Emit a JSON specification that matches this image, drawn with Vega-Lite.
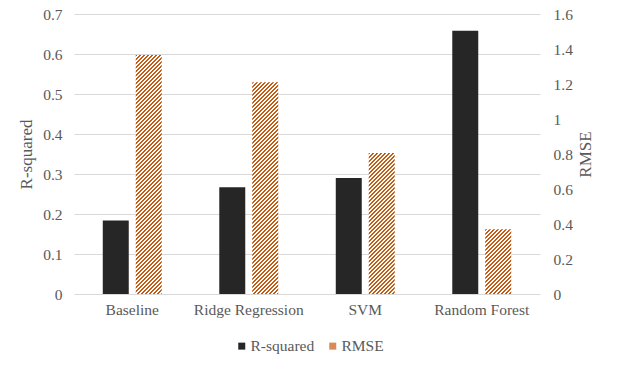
{
  "$schema": "https://vega.github.io/schema/vega-lite/v6.json",
  "width": 466,
  "height": 280,
  "autosize": {"type": "none"},
  "padding": {"left": 74, "top": 14, "right": 79, "bottom": 74},
  "background": "white",
  "params": [
    {"name": "hs", "value": [
      {"offset":0,"color":"#c55a11"},
      {"offset":0.005,"color":"#c55a11"},{"offset":0.005,"color":"#fff"},{"offset":0.01,"color":"#fff"},{"offset":0.01,"color":"#c55a11"},
      {"offset":0.015,"color":"#c55a11"},{"offset":0.015,"color":"#fff"},{"offset":0.02,"color":"#fff"},{"offset":0.02,"color":"#c55a11"},
      {"offset":0.025,"color":"#c55a11"},{"offset":0.025,"color":"#fff"},{"offset":0.03,"color":"#fff"},{"offset":0.03,"color":"#c55a11"},
      {"offset":0.035,"color":"#c55a11"},{"offset":0.035,"color":"#fff"},{"offset":0.04,"color":"#fff"},{"offset":0.04,"color":"#c55a11"},
      {"offset":0.045,"color":"#c55a11"},{"offset":0.045,"color":"#fff"},{"offset":0.05,"color":"#fff"},{"offset":0.05,"color":"#c55a11"},
      {"offset":0.055,"color":"#c55a11"},{"offset":0.055,"color":"#fff"},{"offset":0.06,"color":"#fff"},{"offset":0.06,"color":"#c55a11"},
      {"offset":0.065,"color":"#c55a11"},{"offset":0.065,"color":"#fff"},{"offset":0.07,"color":"#fff"},{"offset":0.07,"color":"#c55a11"},
      {"offset":0.075,"color":"#c55a11"},{"offset":0.075,"color":"#fff"},{"offset":0.08,"color":"#fff"},{"offset":0.08,"color":"#c55a11"},
      {"offset":0.085,"color":"#c55a11"},{"offset":0.085,"color":"#fff"},{"offset":0.09,"color":"#fff"},{"offset":0.09,"color":"#c55a11"},
      {"offset":0.095,"color":"#c55a11"},{"offset":0.095,"color":"#fff"},{"offset":0.1,"color":"#fff"},{"offset":0.1,"color":"#c55a11"},
      {"offset":0.105,"color":"#c55a11"},{"offset":0.105,"color":"#fff"},{"offset":0.11,"color":"#fff"},{"offset":0.11,"color":"#c55a11"},
      {"offset":0.115,"color":"#c55a11"},{"offset":0.115,"color":"#fff"},{"offset":0.12,"color":"#fff"},{"offset":0.12,"color":"#c55a11"},
      {"offset":0.125,"color":"#c55a11"},{"offset":0.125,"color":"#fff"},{"offset":0.13,"color":"#fff"},{"offset":0.13,"color":"#c55a11"},
      {"offset":0.135,"color":"#c55a11"},{"offset":0.135,"color":"#fff"},{"offset":0.14,"color":"#fff"},{"offset":0.14,"color":"#c55a11"},
      {"offset":0.145,"color":"#c55a11"},{"offset":0.145,"color":"#fff"},{"offset":0.15,"color":"#fff"},{"offset":0.15,"color":"#c55a11"},
      {"offset":0.155,"color":"#c55a11"},{"offset":0.155,"color":"#fff"},{"offset":0.16,"color":"#fff"},{"offset":0.16,"color":"#c55a11"},
      {"offset":0.165,"color":"#c55a11"},{"offset":0.165,"color":"#fff"},{"offset":0.17,"color":"#fff"},{"offset":0.17,"color":"#c55a11"},
      {"offset":0.175,"color":"#c55a11"},{"offset":0.175,"color":"#fff"},{"offset":0.18,"color":"#fff"},{"offset":0.18,"color":"#c55a11"},
      {"offset":0.185,"color":"#c55a11"},{"offset":0.185,"color":"#fff"},{"offset":0.19,"color":"#fff"},{"offset":0.19,"color":"#c55a11"},
      {"offset":0.195,"color":"#c55a11"},{"offset":0.195,"color":"#fff"},{"offset":0.2,"color":"#fff"},{"offset":0.2,"color":"#c55a11"},
      {"offset":0.205,"color":"#c55a11"},{"offset":0.205,"color":"#fff"},{"offset":0.21,"color":"#fff"},{"offset":0.21,"color":"#c55a11"},
      {"offset":0.215,"color":"#c55a11"},{"offset":0.215,"color":"#fff"},{"offset":0.22,"color":"#fff"},{"offset":0.22,"color":"#c55a11"},
      {"offset":0.225,"color":"#c55a11"},{"offset":0.225,"color":"#fff"},{"offset":0.23,"color":"#fff"},{"offset":0.23,"color":"#c55a11"},
      {"offset":0.235,"color":"#c55a11"},{"offset":0.235,"color":"#fff"},{"offset":0.24,"color":"#fff"},{"offset":0.24,"color":"#c55a11"},
      {"offset":0.245,"color":"#c55a11"},{"offset":0.245,"color":"#fff"},{"offset":0.25,"color":"#fff"},{"offset":0.25,"color":"#c55a11"},
      {"offset":0.255,"color":"#c55a11"},{"offset":0.255,"color":"#fff"},{"offset":0.26,"color":"#fff"},{"offset":0.26,"color":"#c55a11"},
      {"offset":0.265,"color":"#c55a11"},{"offset":0.265,"color":"#fff"},{"offset":0.27,"color":"#fff"},{"offset":0.27,"color":"#c55a11"},
      {"offset":0.275,"color":"#c55a11"},{"offset":0.275,"color":"#fff"},{"offset":0.28,"color":"#fff"},{"offset":0.28,"color":"#c55a11"},
      {"offset":0.285,"color":"#c55a11"},{"offset":0.285,"color":"#fff"},{"offset":0.29,"color":"#fff"},{"offset":0.29,"color":"#c55a11"},
      {"offset":0.295,"color":"#c55a11"},{"offset":0.295,"color":"#fff"},{"offset":0.3,"color":"#fff"},{"offset":0.3,"color":"#c55a11"},
      {"offset":0.305,"color":"#c55a11"},{"offset":0.305,"color":"#fff"},{"offset":0.31,"color":"#fff"},{"offset":0.31,"color":"#c55a11"},
      {"offset":0.315,"color":"#c55a11"},{"offset":0.315,"color":"#fff"},{"offset":0.32,"color":"#fff"},{"offset":0.32,"color":"#c55a11"},
      {"offset":0.325,"color":"#c55a11"},{"offset":0.325,"color":"#fff"},{"offset":0.33,"color":"#fff"},{"offset":0.33,"color":"#c55a11"},
      {"offset":0.335,"color":"#c55a11"},{"offset":0.335,"color":"#fff"},{"offset":0.34,"color":"#fff"},{"offset":0.34,"color":"#c55a11"},
      {"offset":0.345,"color":"#c55a11"},{"offset":0.345,"color":"#fff"},{"offset":0.35,"color":"#fff"},{"offset":0.35,"color":"#c55a11"},
      {"offset":0.355,"color":"#c55a11"},{"offset":0.355,"color":"#fff"},{"offset":0.36,"color":"#fff"},{"offset":0.36,"color":"#c55a11"},
      {"offset":0.365,"color":"#c55a11"},{"offset":0.365,"color":"#fff"},{"offset":0.37,"color":"#fff"},{"offset":0.37,"color":"#c55a11"},
      {"offset":0.375,"color":"#c55a11"},{"offset":0.375,"color":"#fff"},{"offset":0.38,"color":"#fff"},{"offset":0.38,"color":"#c55a11"},
      {"offset":0.385,"color":"#c55a11"},{"offset":0.385,"color":"#fff"},{"offset":0.39,"color":"#fff"},{"offset":0.39,"color":"#c55a11"},
      {"offset":0.395,"color":"#c55a11"},{"offset":0.395,"color":"#fff"},{"offset":0.4,"color":"#fff"},{"offset":0.4,"color":"#c55a11"},
      {"offset":0.405,"color":"#c55a11"},{"offset":0.405,"color":"#fff"},{"offset":0.41,"color":"#fff"},{"offset":0.41,"color":"#c55a11"},
      {"offset":0.415,"color":"#c55a11"},{"offset":0.415,"color":"#fff"},{"offset":0.42,"color":"#fff"},{"offset":0.42,"color":"#c55a11"},
      {"offset":0.425,"color":"#c55a11"},{"offset":0.425,"color":"#fff"},{"offset":0.43,"color":"#fff"},{"offset":0.43,"color":"#c55a11"},
      {"offset":0.435,"color":"#c55a11"},{"offset":0.435,"color":"#fff"},{"offset":0.44,"color":"#fff"},{"offset":0.44,"color":"#c55a11"},
      {"offset":0.445,"color":"#c55a11"},{"offset":0.445,"color":"#fff"},{"offset":0.45,"color":"#fff"},{"offset":0.45,"color":"#c55a11"},
      {"offset":0.455,"color":"#c55a11"},{"offset":0.455,"color":"#fff"},{"offset":0.46,"color":"#fff"},{"offset":0.46,"color":"#c55a11"},
      {"offset":0.465,"color":"#c55a11"},{"offset":0.465,"color":"#fff"},{"offset":0.47,"color":"#fff"},{"offset":0.47,"color":"#c55a11"},
      {"offset":0.475,"color":"#c55a11"},{"offset":0.475,"color":"#fff"},{"offset":0.48,"color":"#fff"},{"offset":0.48,"color":"#c55a11"},
      {"offset":0.485,"color":"#c55a11"},{"offset":0.485,"color":"#fff"},{"offset":0.49,"color":"#fff"},{"offset":0.49,"color":"#c55a11"},
      {"offset":0.495,"color":"#c55a11"},{"offset":0.495,"color":"#fff"},{"offset":0.5,"color":"#fff"},{"offset":0.5,"color":"#c55a11"},
      {"offset":0.505,"color":"#c55a11"},{"offset":0.505,"color":"#fff"},{"offset":0.51,"color":"#fff"},{"offset":0.51,"color":"#c55a11"},
      {"offset":0.515,"color":"#c55a11"},{"offset":0.515,"color":"#fff"},{"offset":0.52,"color":"#fff"},{"offset":0.52,"color":"#c55a11"},
      {"offset":0.525,"color":"#c55a11"},{"offset":0.525,"color":"#fff"},{"offset":0.53,"color":"#fff"},{"offset":0.53,"color":"#c55a11"},
      {"offset":0.535,"color":"#c55a11"},{"offset":0.535,"color":"#fff"},{"offset":0.54,"color":"#fff"},{"offset":0.54,"color":"#c55a11"},
      {"offset":0.545,"color":"#c55a11"},{"offset":0.545,"color":"#fff"},{"offset":0.55,"color":"#fff"},{"offset":0.55,"color":"#c55a11"},
      {"offset":0.555,"color":"#c55a11"},{"offset":0.555,"color":"#fff"},{"offset":0.56,"color":"#fff"},{"offset":0.56,"color":"#c55a11"},
      {"offset":0.565,"color":"#c55a11"},{"offset":0.565,"color":"#fff"},{"offset":0.57,"color":"#fff"},{"offset":0.57,"color":"#c55a11"},
      {"offset":0.575,"color":"#c55a11"},{"offset":0.575,"color":"#fff"},{"offset":0.58,"color":"#fff"},{"offset":0.58,"color":"#c55a11"},
      {"offset":0.585,"color":"#c55a11"},{"offset":0.585,"color":"#fff"},{"offset":0.59,"color":"#fff"},{"offset":0.59,"color":"#c55a11"},
      {"offset":0.595,"color":"#c55a11"},{"offset":0.595,"color":"#fff"},{"offset":0.6,"color":"#fff"},{"offset":0.6,"color":"#c55a11"},
      {"offset":0.605,"color":"#c55a11"},{"offset":0.605,"color":"#fff"},{"offset":0.61,"color":"#fff"},{"offset":0.61,"color":"#c55a11"},
      {"offset":0.615,"color":"#c55a11"},{"offset":0.615,"color":"#fff"},{"offset":0.62,"color":"#fff"},{"offset":0.62,"color":"#c55a11"},
      {"offset":0.625,"color":"#c55a11"},{"offset":0.625,"color":"#fff"},{"offset":0.63,"color":"#fff"},{"offset":0.63,"color":"#c55a11"},
      {"offset":0.635,"color":"#c55a11"},{"offset":0.635,"color":"#fff"},{"offset":0.64,"color":"#fff"},{"offset":0.64,"color":"#c55a11"},
      {"offset":0.645,"color":"#c55a11"},{"offset":0.645,"color":"#fff"},{"offset":0.65,"color":"#fff"},{"offset":0.65,"color":"#c55a11"},
      {"offset":0.655,"color":"#c55a11"},{"offset":0.655,"color":"#fff"},{"offset":0.66,"color":"#fff"},{"offset":0.66,"color":"#c55a11"},
      {"offset":0.665,"color":"#c55a11"},{"offset":0.665,"color":"#fff"},{"offset":0.67,"color":"#fff"}
    ]}
  ],
  "config": {
    "font": "Liberation Serif",
    "view": {"stroke": null},
    "axis": {
      "labelFont": "Liberation Serif",
      "labelFontSize": 15.5,
      "labelColor": "#595959",
      "titleFont": "Liberation Serif",
      "titleFontSize": 17,
      "titleColor": "#595959",
      "titleFontWeight": "normal",
      "ticks": false,
      "domain": false,
      "gridColor": "#d9d9d9",
      "gridWidth": 1
    }
  },
  "data": {
    "values": [
      {"model": "Baseline", "metric": "R-squared", "value": 0.184},
      {"model": "Baseline", "metric": "RMSE", "value": 1.366},
      {"model": "Ridge Regression", "metric": "R-squared", "value": 0.267},
      {"model": "Ridge Regression", "metric": "RMSE", "value": 1.21},
      {"model": "SVM", "metric": "R-squared", "value": 0.29},
      {"model": "SVM", "metric": "RMSE", "value": 0.806},
      {"model": "Random Forest", "metric": "R-squared", "value": 0.658},
      {"model": "Random Forest", "metric": "RMSE", "value": 0.37}
    ]
  },
  "encoding": {
    "x": {
      "field": "model",
      "type": "nominal",
      "sort": ["Baseline", "Ridge Regression", "SVM", "Random Forest"],
      "scale": {"paddingInner": 0.494, "paddingOuter": 0.247},
      "axis": {"title": null, "labelAngle": 0, "labelPadding": 8, "grid": false}
    },
    "xOffset": {
      "field": "metric",
      "type": "nominal",
      "scale": {"domain": ["R-squared", "RMSE"], "paddingInner": 0.212, "paddingOuter": 0}
    }
  },
  "layer": [
    {
      "transform": [{"filter": "datum.metric === 'R-squared'"}],
      "mark": {"type": "bar"},
      "encoding": {
        "y": {
          "field": "value",
          "type": "quantitative",
          "scale": {"domain": [0, 0.7]},
          "axis": {
            "title": "R-squared",
            "values": [0, 0.1, 0.2, 0.3, 0.4, 0.5, 0.6, 0.7],
            "format": "~g",
            "labelPadding": 12,
            "titlePadding": 7
          }
        },
        "color": {
          "field": "metric",
          "type": "nominal",
          "scale": {"domain": ["R-squared", "RMSE"], "range": ["#262626", "#d98a55"]},
          "legend": {
            "title": null,
            "orient": "none",
            "legendX": 160,
            "legendY": 324,
            "direction": "horizontal",
            "symbolType": "square",
            "symbolSize": 49,
            "symbolStrokeWidth": 0,
            "labelFont": "Liberation Serif",
            "labelFontSize": 15.5,
            "labelColor": "#595959",
            "labelOffset": 1,
            "columnPadding": 10,
            "encode": {
              "symbols": {
                "update": {
                  "fill": {"signal": "datum.value === 'RMSE' ? {gradient: 'linear', x1: 0, y1: 0, x2: 28.57, y2: 28.57, stops: hs} : '#262626'"},
                  "strokeWidth": {"value": 0}
                }
              }
            }
          }
        }
      }
    },
    {
      "transform": [{"filter": "datum.metric === 'RMSE'"}],
      "mark": {
        "type": "bar",
        "fill": {"expr": "{gradient: 'linear', x1: 0, y1: 0, x2: 400*25.98/(675+pow(datum.value*175,2)), y2: 400*datum.value*175/(675+pow(datum.value*175,2)), stops: hs}"}
      },
      "encoding": {
        "y": {
          "field": "value",
          "type": "quantitative",
          "scale": {"domain": [0, 1.6]},
          "axis": {
            "orient": "right",
            "title": "RMSE",
            "grid": false,
            "values": [0, 0.2, 0.4, 0.6, 0.8, 1, 1.2, 1.4, 1.6],
            "format": "~g",
            "labelPadding": 13,
            "titlePadding": 5,
            "titleAngle": 270,
            "titleBaseline": "top"
          }
        }
      }
    }
  ],
  "resolve": {"scale": {"y": "independent"}}
}
